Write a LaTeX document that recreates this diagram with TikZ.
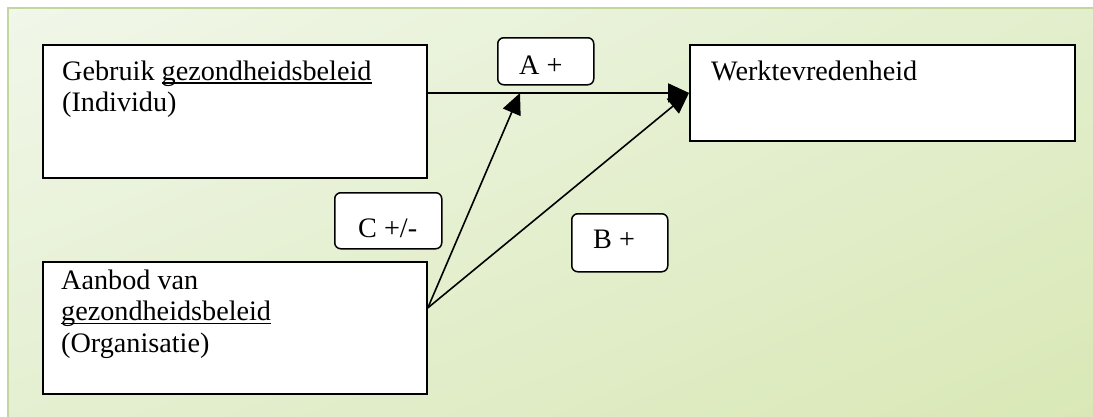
\documentclass[tikz,border=0pt]{standalone}
\usepackage{fontspec}
\setmainfont{Liberation Serif}
\usetikzlibrary{arrows.meta,calc,shadings}

% underline that cuts through the descenders, as in a word processor
\newcommand{\ulword}[1]{\setbox0\hbox{#1}\rlap{\rule[-3.5pt]{\wd0}{1.3pt}}\box0}
% left-aligned lines whose reference point is the first baseline
\newcommand{\lines}[1]{\begin{tabular}[t]{@{}l@{}}#1\end{tabular}}

\definecolor{framegreen}{HTML}{C3D69B}
\definecolor{bgA}{HTML}{F1F7E9}
\definecolor{bgB}{HTML}{E4EFD0}
\definecolor{bgC}{HTML}{E2EECC}
\definecolor{bgD}{HTML}{D9E8B5}

\tikzset{
  conceptbox/.style={draw=black, line width=1.8pt, fill=white, rectangle,
    inner sep=0pt, anchor=north west},
  signbox/.style={draw=black, line width=1.5pt, fill=white, rectangle,
    rounded corners=6pt, inner sep=0pt, anchor=north west},
  boxtext/.style={anchor=base west, inner sep=0pt,
    font=\fontsize{28.2}{31.5}\selectfont},
  effect/.style={draw=black, line width=1.6pt,
    -{Triangle[length=21pt,width=19pt]}}
}

\begin{document}
\begin{tikzpicture}[x=1pt, y=-1pt]
  \useasboundingbox (0,0) rectangle (1093,416);
  \clip (0,0) rectangle (1093,416);
  \fill[white] (0,0) rectangle (1093,416);

  % shaded panel with its frame running off the page
  \shade[upper left=bgA, upper right=bgC, lower left=bgB, lower right=bgD]
    (8,8) rectangle (1110,430);
  \draw[framegreen, line width=2pt] (8,430) -- (8,8) -- (1110,8);

  % concept boxes
  \node[conceptbox, minimum width=384pt, minimum height=133pt] (gebruik) at (42,44) {};
  \node[conceptbox, minimum width=385pt, minimum height=96pt] (werk) at (689,44) {};
  \node[conceptbox, minimum width=384pt, minimum height=132pt] (aanbod) at (42,261) {};

  \node[boxtext] (tgebruik) at (62,80) {\lines{Gebruik \ulword{gezondheidsbeleid}\\(Individu)}};
  \node[boxtext] (twerk) at (711,80) {Werktevredenheid};
  \node[boxtext] (taanbod) at (61,289) {\lines{Aanbod van\\\ulword{gezondheidsbeleid}\\(Organisatie)}};

  % effect labels
  \node[signbox, minimum width=96pt, minimum height=47pt] (signA) at (497,37) {};
  \node[signbox, minimum width=107pt, minimum height=56pt] (signC) at (334,192) {};
  \node[signbox, minimum width=96pt, minimum height=58pt] (signB) at (571,213) {};

  \node[boxtext] (tA) at (519,74) {A +};
  \node[boxtext] (tC) at (358,237) {C +/-};
  \node[boxtext] (tB) at (593,248) {B +};

  % connectors
  \coordinate (target) at (werk.west);
  \coordinate (moderation) at (520,93);
  \coordinate (origin) at ([yshift=20pt]aanbod.east);

  \draw[effect] (gebruik.east |- target) -- (target);
  \draw[effect] (origin) -- (moderation);
  \draw[effect] (origin) -- (target);
\end{tikzpicture}
\end{document}
